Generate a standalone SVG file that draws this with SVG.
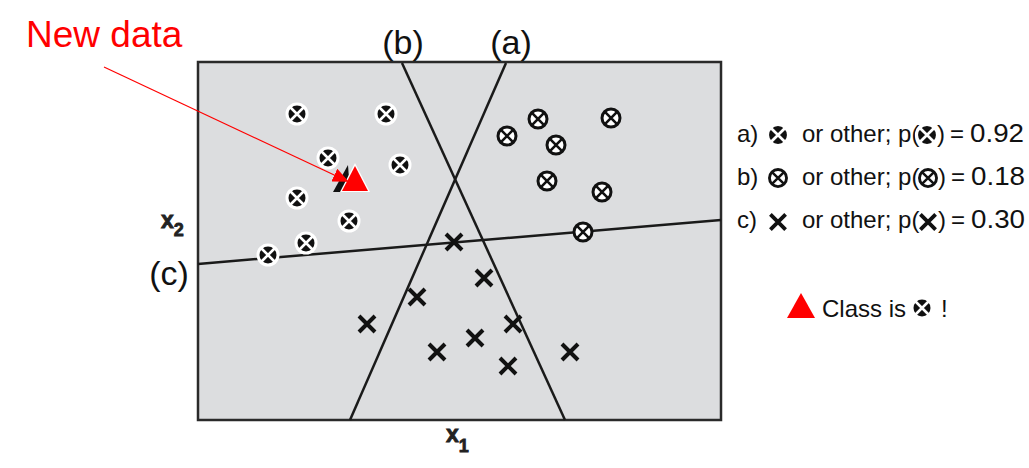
<svg xmlns="http://www.w3.org/2000/svg" xmlns:xlink="http://www.w3.org/1999/xlink" width="1029" height="468" viewBox="0 0 1029 468">
<style>
.lbl{font-family:"Liberation Sans",Arial,sans-serif;fill:#111}
.big{font-size:34px}
.leg{font-size:24px}
.num{font-size:25px}
.ax{font-family:"Liberation Sans",Arial,sans-serif;font-weight:bold;fill:#222;stroke:#222;stroke-width:0.8}
.bound{stroke:#1a1a1a;stroke-width:2.5;fill:none}
</style>
<defs>
<g id="mA">
<circle r="11.5" fill="#fff"/>
<circle r="8.5" fill="#111"/>
<path d="M-6.5,-6.5L6.5,6.5M-6.5,6.5L6.5,-6.5" stroke="#fff" stroke-width="2.6"/>
</g>
<g id="mB">
<circle r="9" fill="#fff" stroke="#111" stroke-width="3"/>
<path d="M-6.3,-6.3L6.3,6.3M-6.3,6.3L6.3,-6.3" stroke="#111" stroke-width="2.6"/>
</g>
<g id="mC">
<path d="M-8,-8L8,8M-8,8L8,-8" stroke="#111" stroke-width="4"/>
</g>
<marker id="redhead" markerUnits="userSpaceOnUse" markerWidth="16" markerHeight="14" refX="14" refY="7" orient="auto">
<path d="M0,0L16,7L0,14Z" fill="#f00"/>
</marker>
</defs>

<g id="plot">
<rect x="198" y="62" width="523" height="358" fill="#dcdddf" stroke="#2a2a2a" stroke-width="2.5"/>
<line class="bound" x1="402" y1="63" x2="565" y2="420"/>
<line class="bound" x1="506" y1="63" x2="350" y2="420"/>
<line class="bound" x1="198" y1="264" x2="721" y2="220"/>
</g>

<g id="classA">
<use xlink:href="#mA" x="297" y="114"/>
<use xlink:href="#mA" x="386" y="114"/>
<use xlink:href="#mA" x="328" y="158"/>
<use xlink:href="#mA" x="400" y="165"/>
<use xlink:href="#mA" x="297" y="198"/>
<use xlink:href="#mA" x="349" y="221"/>
<use xlink:href="#mA" x="306" y="243"/>
<use xlink:href="#mA" x="268" y="255"/>
</g>

<g id="classB">
<use xlink:href="#mB" x="507" y="136"/>
<use xlink:href="#mB" x="538" y="119"/>
<use xlink:href="#mB" x="556" y="145"/>
<use xlink:href="#mB" x="611" y="118"/>
<use xlink:href="#mB" x="547" y="181"/>
<use xlink:href="#mB" x="602" y="192"/>
<use xlink:href="#mB" x="583" y="232"/>
</g>

<g id="classC">
<use xlink:href="#mC" x="454" y="242"/>
<use xlink:href="#mC" x="484" y="278"/>
<use xlink:href="#mC" x="417" y="297"/>
<use xlink:href="#mC" x="367" y="324"/>
<use xlink:href="#mC" x="513" y="324"/>
<use xlink:href="#mC" x="475" y="338"/>
<use xlink:href="#mC" x="437" y="352"/>
<use xlink:href="#mC" x="508" y="366"/>
<use xlink:href="#mC" x="570" y="352"/>
</g>

<g id="newpoint">
<polygon points="348,165 333,192 350,192" fill="#111"/>
<polygon points="355,163 340,192 370,192" fill="#fff"/>
<polygon points="355,166 342,191 368,191" fill="#f00"/>
</g>

<g id="labels">
<text class="lbl big" x="403" y="54" text-anchor="middle">(b)</text>
<text class="lbl big" x="511" y="54" text-anchor="middle">(a)</text>
<text class="lbl big" x="169" y="285" text-anchor="middle">(c)</text>
<text class="ax" x="161" y="228" font-size="23">x<tspan font-size="18" dy="8">2</tspan></text>
<text class="ax" x="446" y="442" font-size="23">x<tspan font-size="18" dy="10">1</tspan></text>
<text x="26" y="47" font-family="'Liberation Sans',Arial,sans-serif" font-size="37" fill="#f00">New data</text>
</g>

<g id="connectors">
<line x1="104" y1="67" x2="347" y2="181" stroke="#f00" stroke-width="1.2" marker-end="url(#redhead)"/>
</g>

<g id="legend">
<text class="lbl leg" x="737" y="142">a)</text>
<use xlink:href="#mA" transform="translate(778,135) scale(1.05)"/>
<text class="lbl leg" x="802" y="142">or other; p(</text>
<use xlink:href="#mA" transform="translate(927,135) scale(1.05)"/>
<text class="lbl leg" x="937" y="142">)</text>
<text class="lbl leg" x="950" y="142">=</text>
<text class="lbl num" x="970" y="142" textLength="54" lengthAdjust="spacingAndGlyphs">0.92</text>

<text class="lbl leg" x="737" y="185">b)</text>
<use xlink:href="#mB" transform="translate(778,178) scale(0.95)"/>
<text class="lbl leg" x="802" y="185">or other; p(</text>
<use xlink:href="#mB" transform="translate(928,178) scale(0.95)"/>
<text class="lbl leg" x="938" y="185">)</text>
<text class="lbl leg" x="951" y="185">=</text>
<text class="lbl num" x="971" y="185" textLength="54" lengthAdjust="spacingAndGlyphs">0.18</text>

<text class="lbl leg" x="737" y="228">c)</text>
<use xlink:href="#mC" transform="translate(778,222) scale(0.95)"/>
<text class="lbl leg" x="802" y="228">or other; p(</text>
<use xlink:href="#mC" transform="translate(928,222) scale(0.95)"/>
<text class="lbl leg" x="938" y="228">)</text>
<text class="lbl leg" x="951" y="228">=</text>
<text class="lbl num" x="971" y="228" textLength="54" lengthAdjust="spacingAndGlyphs">0.30</text>

<polygon points="801,293 787,318 815,318" fill="#f00"/>
<text class="lbl leg" x="822" y="317" font-size="25">Class is</text>
<use xlink:href="#mA" transform="translate(922,308) scale(1.0)"/>
<text class="lbl leg" x="941" y="317" font-size="25">!</text>
</g>
</svg>
